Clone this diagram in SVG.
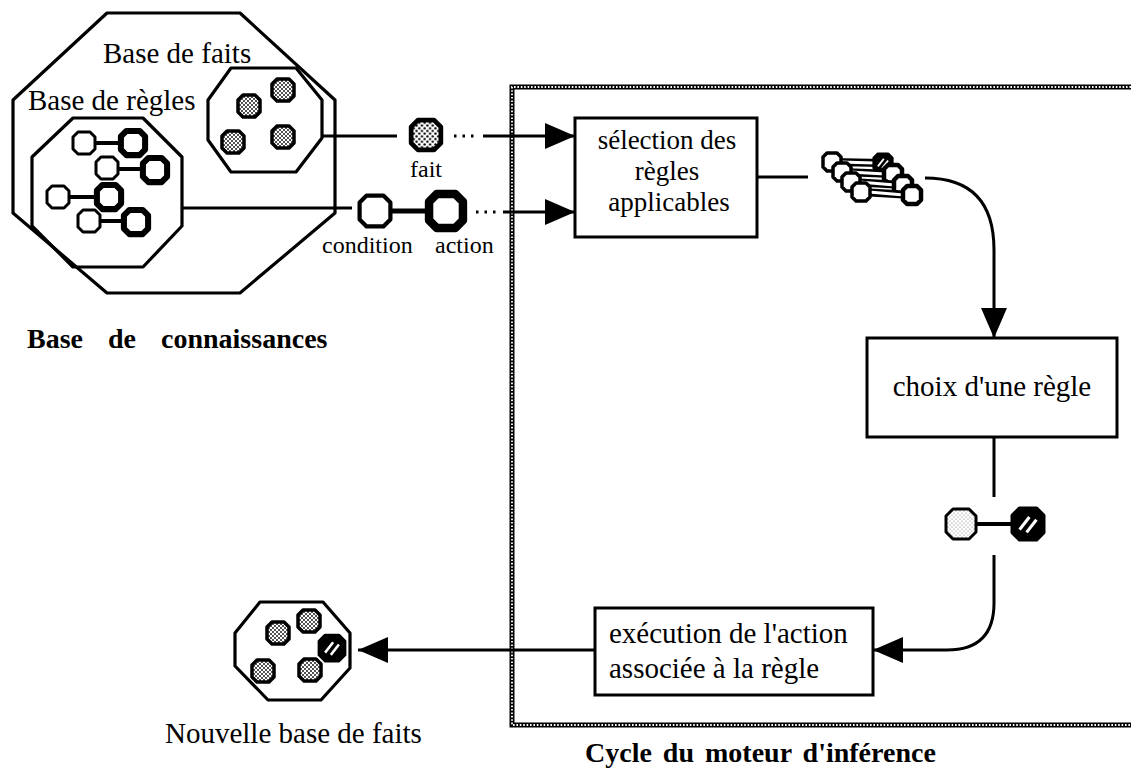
<svg xmlns="http://www.w3.org/2000/svg" xmlns:xlink="http://www.w3.org/1999/xlink" width="1131" height="775" viewBox="0 0 1131 775">
  <style>
    .t { font-family: "Liberation Serif", "Times New Roman", serif; font-size: 29px; fill: #000; }
    .t27 { font-family: "Liberation Serif", "Times New Roman", serif; font-size: 27px; fill: #000; }
    .s { font-family: "Liberation Serif", "Times New Roman", serif; font-size: 24px; fill: #000; }
    .b { font-family: "Liberation Serif", "Times New Roman", serif; font-size: 28px; font-weight: bold; fill: #000; }
    .mid { text-anchor: middle; }
    .edge { fill: none; stroke: #000; stroke-width: 3.2; stroke-linejoin: round; }
    .box { fill: #fff; stroke: #000; stroke-width: 3; }
    .wire { fill: none; stroke: #000; stroke-width: 3; }
    .dots { fill: none; stroke: #000; stroke-width: 3; stroke-dasharray: 2.5 6; }
    .bar { stroke: #000; stroke-width: 4; }
  </style>
  <defs>
    <pattern id="stipple" width="4" height="4" patternUnits="userSpaceOnUse">
      <rect width="4" height="4" fill="#fff"/>
      <circle cx="1" cy="1" r="0.9" fill="#000"/>
      <circle cx="3" cy="3" r="0.9" fill="#000"/>
    </pattern>
    <pattern id="stippleLight" width="4" height="4" patternUnits="userSpaceOnUse">
      <rect width="4" height="4" fill="#fff"/>
      <circle cx="1" cy="1" r="0.6" fill="#777"/>
      <circle cx="3" cy="3" r="0.6" fill="#777"/>
    </pattern>
    <!-- octagon glyphs centred on the origin -->
    <polygon id="oct" points="-6,-11 6,-11 11,-6 11,6 6,11 -6,11 -11,6 -11,-6"/>
    <polygon id="octS" points="-5,-9 5,-9 9,-5 9,5 5,9 -5,9 -9,5 -9,-5"/>
    <polygon id="octL" points="-8,-15 8,-15 15,-8 15,8 8,15 -8,15 -15,8 -15,-8"/>
    <g id="cond"><use xlink:href="#oct" fill="#fff" stroke="#000" stroke-width="3" stroke-linejoin="round"/></g>
    <g id="act"><use xlink:href="#oct" fill="#fff" stroke="#000" stroke-width="5.5" stroke-linejoin="round" transform="scale(1.1)"/></g>
    <g id="fact"><use xlink:href="#oct" fill="url(#stipple)" stroke="#000" stroke-width="3.5" stroke-linejoin="round"/></g>
    <g id="hatch">
      <use xlink:href="#oct" fill="#000" stroke="#000" stroke-width="3" stroke-linejoin="round"/>
      <line x1="-6" y1="4" x2="1" y2="-5" stroke="#fff" stroke-width="2.2"/>
      <line x1="-1" y1="6" x2="6" y2="-3" stroke="#fff" stroke-width="2.2"/>
    </g>
    <g id="sCond"><use xlink:href="#octS" fill="#fff" stroke="#000" stroke-width="3.5" stroke-linejoin="round"/></g>
    <g id="sAct"><use xlink:href="#octS" fill="#fff" stroke="#000" stroke-width="4.5" stroke-linejoin="round"/></g>
    <marker id="arrow" viewBox="0 0 30 26" refX="30" refY="13" markerWidth="30" markerHeight="26" markerUnits="userSpaceOnUse" orient="auto">
      <path d="M0,0 L30,13 L0,26 Z" fill="#000"/>
    </marker>
  </defs>

  <rect width="1131" height="775" fill="#fff"/>

  <!-- inference cycle frame: chain-like border -->
  <g id="cycle-frame">
    <path d="M1131,87 L512,87 L512,725 L1131,725" fill="none" stroke="#000" stroke-width="5"/>
    <path d="M1131,87 L512,87 L512,725 L1131,725" fill="none" stroke="#fff" stroke-width="1.8" stroke-dasharray="1.6 1.8"/>
    <text class="b" x="585" y="762" word-spacing="4">Cycle du moteur d'inférence</text>
  </g>

  <!-- knowledge base -->
  <g id="knowledge-base">
    <polygon class="edge" points="107,13 240,13 335,100 335,213 240,293 107,293 13,213 13,100"/>
    <text class="b" x="27" y="348" word-spacing="18">Base de connaissances</text>
  </g>

  <g id="fact-base">
    <text class="t" x="103" y="63">Base de faits</text>
    <polygon class="edge" points="231,68 296,68 322,100 322,138 296,172 231,172 208,140 208,100"/>
    <use xlink:href="#fact" x="249" y="106"/>
    <use xlink:href="#fact" x="283" y="90"/>
    <use xlink:href="#fact" x="233" y="142"/>
    <use xlink:href="#fact" x="283" y="137"/>
  </g>

  <g id="rule-base">
    <text class="t" x="28" y="110">Base de règles</text>
    <polygon class="edge" points="73,118 143,118 182,157 182,226 143,267 73,267 32,226 32,157"/>
    <line class="bar" x1="95" y1="143" x2="122" y2="143"/>
    <use xlink:href="#cond" x="84" y="143"/>
    <use xlink:href="#act" x="133" y="143"/>
    <line class="bar" x1="118" y1="169" x2="144" y2="169"/>
    <use xlink:href="#cond" x="107" y="168"/>
    <use xlink:href="#act" x="155" y="170"/>
    <line class="bar" x1="69" y1="197" x2="98" y2="197"/>
    <use xlink:href="#cond" x="58" y="197"/>
    <use xlink:href="#act" x="109" y="197"/>
    <line class="bar" x1="100" y1="221" x2="125" y2="221"/>
    <use xlink:href="#cond" x="89" y="221"/>
    <use xlink:href="#act" x="136" y="222"/>
  </g>

  <!-- items carried into the cycle -->
  <g id="fact-token">
    <g transform="translate(426,135) scale(1.35)"><use xlink:href="#fact"/></g>
    <text class="s mid" x="426" y="177">fait</text>
  </g>

  <g id="rule-token">
    <line x1="390" y1="211" x2="430" y2="211" stroke="#000" stroke-width="5"/>
    <g transform="translate(375,211) scale(1.4)"><use xlink:href="#cond"/></g>
    <g transform="translate(446,211) scale(1.4)"><use xlink:href="#act"/></g>
    <text class="s" x="322" y="253">condition</text>
    <text class="s" x="435" y="253">action</text>
  </g>

  <g id="selection">
    <rect class="box" x="575" y="118" width="182" height="119"/>
    <text class="t27 mid" x="667" y="149">sélection des</text>
    <text class="t27 mid" x="667" y="180">règles</text>
    <text class="t27 mid" x="669" y="211">applicables</text>
  </g>

  <g id="applicable-rules">
    <g id="pair1">
      <line x1="832" y1="162" x2="883" y2="163" stroke="#000" stroke-width="8"/>
      <line x1="840" y1="162" x2="875" y2="163" stroke="#fff" stroke-width="3"/>
      <use xlink:href="#sCond" x="832" y="162"/>
      <g transform="translate(883,163) scale(0.85)"><use xlink:href="#hatch"/></g>
    </g>
    <g id="pair2">
      <line x1="842" y1="172" x2="893" y2="174" stroke="#000" stroke-width="8"/>
      <line x1="850" y1="172" x2="885" y2="174" stroke="#fff" stroke-width="3"/>
      <use xlink:href="#sCond" x="842" y="172"/>
      <use xlink:href="#sAct" x="893" y="174"/>
    </g>
    <g id="pair3">
      <line x1="851" y1="182" x2="903" y2="185" stroke="#000" stroke-width="8"/>
      <line x1="859" y1="182" x2="895" y2="185" stroke="#fff" stroke-width="3"/>
      <use xlink:href="#sCond" x="851" y="182"/>
      <use xlink:href="#sAct" x="903" y="185"/>
    </g>
    <g id="pair4">
      <line x1="861" y1="192" x2="912" y2="195" stroke="#000" stroke-width="8"/>
      <line x1="869" y1="192" x2="904" y2="195" stroke="#fff" stroke-width="3"/>
      <use xlink:href="#sCond" x="861" y="192"/>
      <use xlink:href="#sAct" x="912" y="195"/>
    </g>
  </g>

  <g id="choice">
    <rect class="box" x="867" y="338" width="250" height="99"/>
    <text class="t mid" x="992" y="396">choix d'une règle</text>
  </g>

  <g id="chosen-rule">
    <line x1="975" y1="524" x2="1014" y2="524" stroke="#000" stroke-width="4"/>
    <use xlink:href="#octL" x="961" y="524" fill="url(#stippleLight)" stroke="#000" stroke-width="3" stroke-linejoin="round"/>
    <g transform="translate(1028,524) scale(1.4)"><use xlink:href="#hatch"/></g>
  </g>

  <g id="execution">
    <rect class="box" x="595" y="608" width="278" height="87"/>
    <text class="t" x="609" y="643">exécution de l'action</text>
    <text class="t" x="609" y="678">associée à la règle</text>
  </g>

  <g id="new-fact-base">
    <polygon class="edge" points="260,602 323,602 350,633 350,668 321,700 268,700 235,666 235,633"/>
    <use xlink:href="#fact" x="278" y="633"/>
    <use xlink:href="#fact" x="309" y="621"/>
    <use xlink:href="#fact" x="263" y="671"/>
    <use xlink:href="#fact" x="310" y="670"/>
    <g transform="translate(332,648) scale(1.15)"><use xlink:href="#hatch"/></g>
    <text class="t" x="165" y="743">Nouvelle base de faits</text>
  </g>

  <!-- connectors -->
  <g id="connectors">
    <line class="wire" x1="322" y1="136" x2="397" y2="136"/>
    <line class="dots" x1="454" y1="136" x2="476" y2="136"/>
    <line class="wire" x1="483" y1="136" x2="575" y2="136" marker-end="url(#arrow)"/>

    <line class="wire" x1="182" y1="208" x2="352" y2="208"/>
    <line class="dots" x1="476" y1="212" x2="498" y2="212"/>
    <line class="wire" x1="503" y1="212" x2="575" y2="212" marker-end="url(#arrow)"/>

    <line class="wire" x1="757" y1="177" x2="808" y2="177"/>
    <path class="wire" d="M925,178 Q994,178 994,250 L994,338" marker-end="url(#arrow)"/>

    <line class="wire" x1="994" y1="437" x2="994" y2="497"/>
    <path class="wire" d="M994,555 L994,603 Q994,650 947,650 L873,650" marker-end="url(#arrow)"/>

    <line class="wire" x1="595" y1="650" x2="358" y2="650" marker-end="url(#arrow)"/>
  </g>
</svg>
